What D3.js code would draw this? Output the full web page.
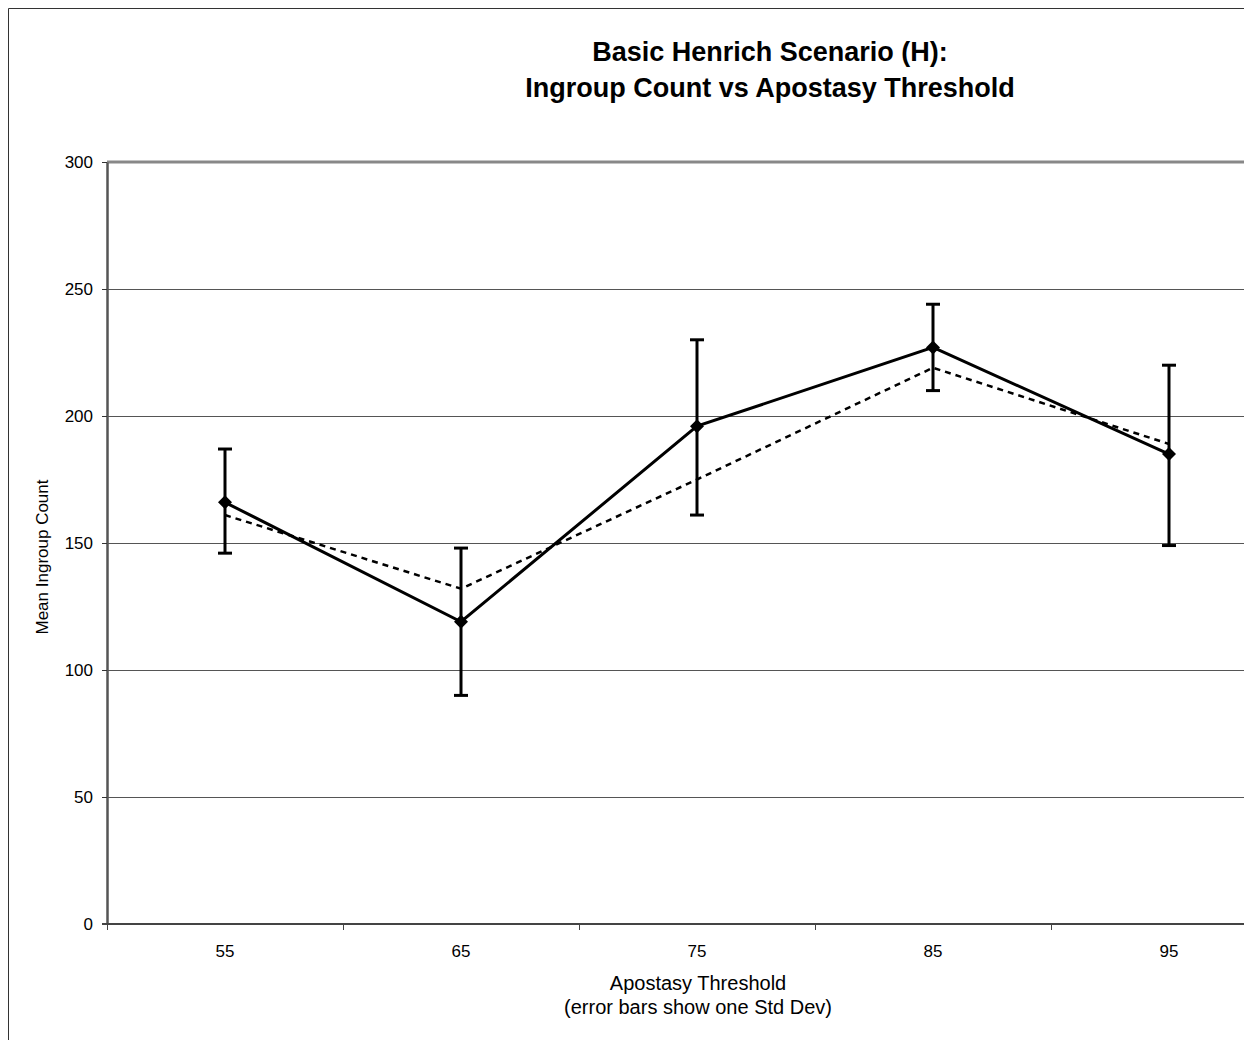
<!DOCTYPE html>
<html>
<head>
<meta charset="utf-8">
<script src="https://cdn.jsdelivr.net/npm/d3@7"></script>
<style>
  body { margin: 0; background: #fff; }
  svg { display: block; font-family: "Liberation Sans", Arial, sans-serif; }
</style>
</head>
<body>
<div id="wrapper"></div>
<script>
// Data
var thresholds = [55, 65, 75, 85, 95];
var meanCount = [166, 119, 196, 227, 185];
var errLow = [146, 90, 161, 210, 149];
var errHigh = [187, 148, 230, 244, 220];
var trendCount = [161, 132, 175, 219, 189];
var yTicks = [0, 50, 100, 150, 200, 250, 300];

var width = 1244, height = 1040;
var dims = { left: 107, top: 162, bottom: 924, bandRight: 1287 };

var svg = d3.select("#wrapper").append("svg")
  .attr("width", width)
  .attr("height", height);

// outer chart border (right/bottom cut off like the original)
svg.append("path")
  .attr("d", "M8.5," + height + "V8.5H" + width)
  .attr("fill", "none")
  .attr("stroke", "#333")
  .attr("stroke-width", 1);

var x = d3.scaleBand()
  .domain(thresholds)
  .range([dims.left, dims.bandRight]);

var y = d3.scaleLinear()
  .domain([0, 300])
  .range([dims.bottom, dims.top]);

var cx = function (d, i) { return x(thresholds[i]) + x.bandwidth() / 2; };

// gridlines
svg.append("g")
  .selectAll("line")
  .data(yTicks.filter(function (t) { return t > 0 && t < 300; }))
  .enter().append("line")
  .attr("x1", dims.left).attr("x2", width)
  .attr("y1", function (d) { return Math.round(y(d)) + 0.5; })
  .attr("y2", function (d) { return Math.round(y(d)) + 0.5; })
  .attr("stroke", "#555")
  .attr("stroke-width", 1);

// top border of plot area
svg.append("line")
  .attr("x1", dims.left).attr("x2", width)
  .attr("y1", y(300)).attr("y2", y(300))
  .attr("stroke", "#888").attr("stroke-width", 3);

// Y axis
var yAxis = svg.append("g")
  .attr("transform", "translate(" + dims.left + ",0)")
  .call(d3.axisLeft(y).tickValues(yTicks).tickSize(5).tickSizeOuter(0).tickPadding(9));
yAxis.select(".domain").attr("stroke", "#555").attr("stroke-width", 2.5);
yAxis.selectAll(".tick line").attr("stroke", "#333");
yAxis.selectAll("text").attr("font-size", 17).attr("fill", "#000")
  .attr("font-family", "Liberation Sans, Arial, sans-serif");

// X axis with ticks on category boundaries
var xAxis = svg.append("g")
  .attr("transform", "translate(0," + dims.bottom + ")")
  .call(d3.axisBottom(x).tickSize(0).tickPadding(21));
xAxis.select(".domain").remove();
xAxis.selectAll("text").attr("font-size", 17).attr("fill", "#000")
  .attr("font-family", "Liberation Sans, Arial, sans-serif");
svg.append("line")
  .attr("x1", dims.left - 5).attr("x2", width)
  .attr("y1", dims.bottom).attr("y2", dims.bottom)
  .attr("stroke", "#444").attr("stroke-width", 2);
svg.append("g")
  .selectAll("line")
  .data(thresholds)
  .enter().append("line")
  .attr("x1", function (d) { return Math.round(x(d)) + 0.5; })
  .attr("x2", function (d) { return Math.round(x(d)) + 0.5; })
  .attr("y1", dims.bottom).attr("y2", dims.bottom + 6)
  .attr("stroke", "#444");

// dashed trend series
var line = d3.line()
  .x(cx)
  .y(function (d) { return y(d); });

svg.append("path")
  .attr("d", line(trendCount))
  .attr("fill", "none")
  .attr("stroke", "#000")
  .attr("stroke-width", 2.5)
  .attr("stroke-dasharray", "6,5");

// error bars
var bars = svg.append("g").selectAll("g")
  .data(thresholds)
  .enter().append("g");
bars.append("line")
  .attr("x1", cx).attr("x2", cx)
  .attr("y1", function (d, i) { return y(errLow[i]); })
  .attr("y2", function (d, i) { return y(errHigh[i]); })
  .attr("stroke", "#000").attr("stroke-width", 3);
[errLow, errHigh].forEach(function (arr) {
  bars.append("line")
    .attr("x1", function (d, i) { return cx(d, i) - 7; })
    .attr("x2", function (d, i) { return cx(d, i) + 7; })
    .attr("y1", function (d, i) { return y(arr[i]); })
    .attr("y2", function (d, i) { return y(arr[i]); })
    .attr("stroke", "#000").attr("stroke-width", 3);
});

// main series
svg.append("path")
  .attr("d", line(meanCount))
  .attr("fill", "none")
  .attr("stroke", "#000")
  .attr("stroke-width", 3);

svg.append("g").selectAll("path")
  .data(meanCount)
  .enter().append("path")
  .attr("d", d3.symbol().type(d3.symbolDiamond2).size(125))
  .attr("transform", function (d, i) { return "translate(" + cx(d, i) + "," + y(d) + ")"; })
  .attr("fill", "#000");

// title
var title = svg.append("text")
  .attr("text-anchor", "middle")
  .attr("font-size", 27)
  .attr("font-weight", "bold")
  .attr("fill", "#000");
title.append("tspan").attr("x", 770).attr("y", 61).text("Basic Henrich Scenario (H):");
title.append("tspan").attr("x", 770).attr("y", 97).text("Ingroup Count vs Apostasy Threshold");

// axis labels
svg.append("text")
  .attr("transform", "translate(48,557) rotate(-90)")
  .attr("text-anchor", "middle")
  .attr("font-size", 17)
  .text("Mean Ingroup Count");

var xl = svg.append("text")
  .attr("text-anchor", "middle")
  .attr("font-size", 20);
xl.append("tspan").attr("x", 698).attr("y", 990).text("Apostasy Threshold");
xl.append("tspan").attr("x", 698).attr("y", 1014).text("(error bars show one Std Dev)");
</script>
</body>
</html>
